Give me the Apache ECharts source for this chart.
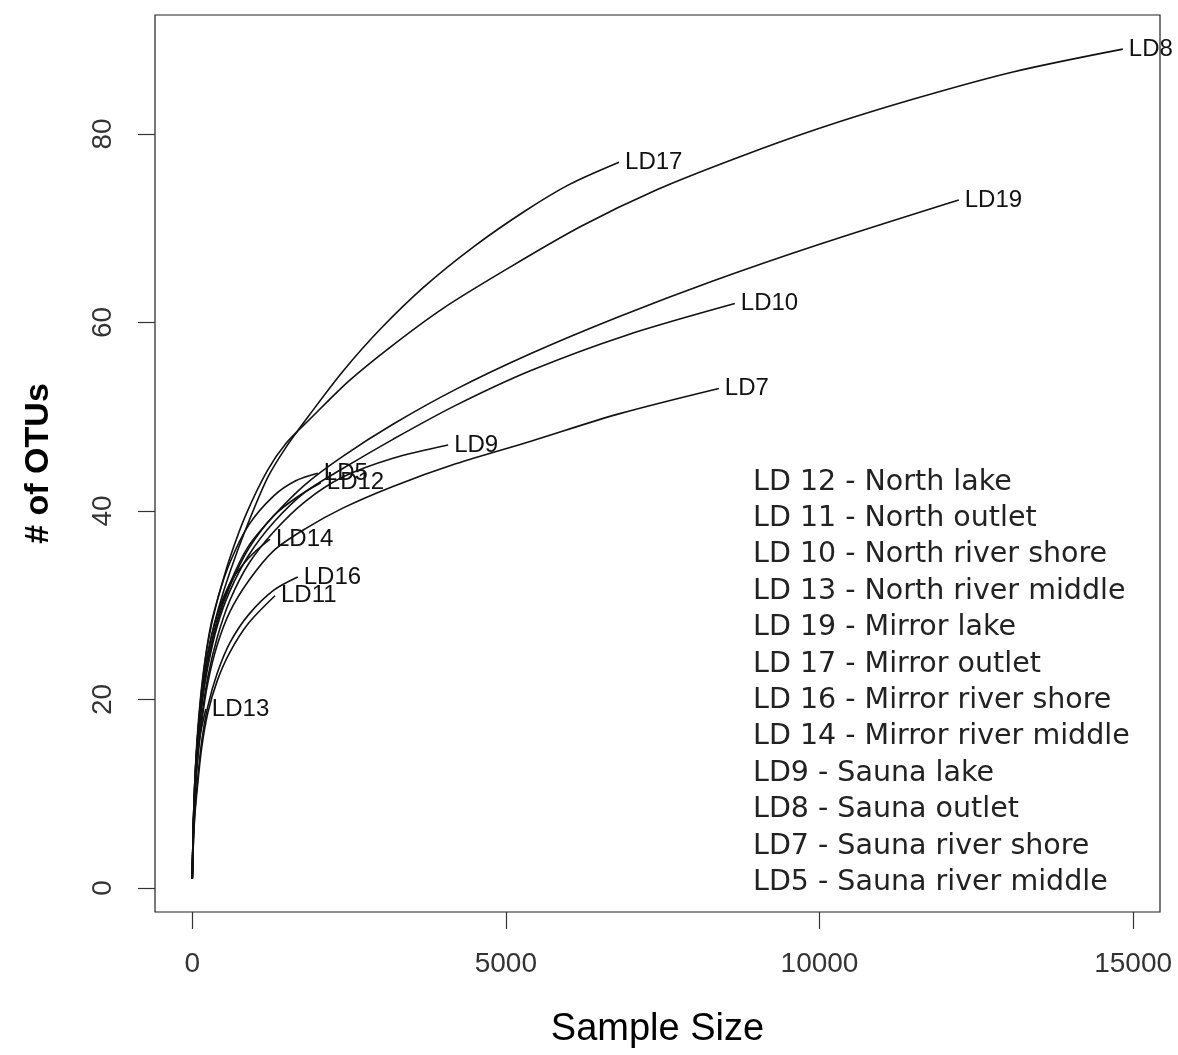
<!DOCTYPE html>
<html>
<head>
<meta charset="utf-8">
<title>Rarefaction curves</title>
<script src="https://cdn.jsdelivr.net/npm/echarts@6/dist/echarts.min.js"></script>
<style>
  html, body { margin: 0; padding: 0; background: #fff; }
  #chart { width: 1178px; height: 1055px; }
</style>
</head>
<body>
<div id="chart"></div>
<script>
// Rarefaction curves: [sample size, number of OTUs] per sample
const ld8  = [[1,1],[15,6],[40,11],[80,16],[130,20],[200,24],[300,28],[420,31],[600,35],[850,39.5],[1200,44.3],[1500,47.2],[1870,49.7],[2500,53.8],[3200,57.6],[4000,61.5],[5000,65.6],[6200,70.2],[7415,74.1],[8700,77.5],[10000,80.6],[11500,83.7],[13100,86.6],[14835,89]];
const ld17 = [[1,1],[15,5.8],[40,10.6],[80,15.3],[130,19],[200,22.8],[300,26.5],[420,29.7],[600,33.5],[850,38],[1200,43.5],[1500,46.8],[1870,50.2],[2400,54.8],[3000,59.3],[3700,63.8],[4500,68.1],[5300,71.8],[6000,74.6],[6805,77]];
const ld19 = [[1,1],[15,5.5],[40,10],[80,14.5],[150,19.5],[250,24],[400,28.5],[600,32.3],[900,36.3],[1300,39.5],[1800,42.8],[2400,45.8],[3200,49.2],[4200,52.9],[5400,56.7],[6800,60.6],[8300,64.4],[10000,68.3],[12220,73]];
const ld10 = [[1,1],[15,5.5],[40,10],[80,14.5],[150,19.3],[250,23.5],[400,27.8],[600,31.5],[900,35.3],[1300,38.8],[1800,42],[2400,44.5],[3200,47.6],[4200,51.2],[5400,54.9],[6900,58.6],[8650,62]];
const ld7  = [[1,1],[15,5],[40,9],[80,13],[150,17.5],[250,21.8],[400,25.8],[600,29.3],[900,32.6],[1300,35.8],[1800,38.1],[2400,40.3],[3200,42.6],[4200,45],[5400,47.4],[6800,50.3],[8395,53]];
const ld9  = [[1,1],[15,5],[40,9.3],[80,13.5],[150,18],[250,22.4],[400,26.6],[600,30.5],[900,34.4],[1300,37.8],[1800,41],[2400,43.6],[3200,45.6],[4080,47]];
const ld12 = [[1,1],[15,5.5],[40,10],[80,14.5],[150,19.5],[250,24],[400,28.3],[600,32],[900,36],[1300,39.5],[1700,41.6],[2050,43]];
const ld5  = [[1,1],[15,6],[40,11],[80,15.5],[150,21],[250,26],[400,30.5],[600,34.5],[900,38.5],[1300,41.6],[1650,43.2],[2002,44]];
const ld14 = [[1,1],[15,6],[40,11],[80,15.5],[150,20.5],[250,25],[400,29],[600,32.3],[900,35],[1240,37]];
const ld16 = [[1,1],[15,4.3],[40,7.8],[80,11],[150,15.5],[250,19.3],[400,22.8],[600,26],[900,29],[1300,31.6],[1683,33]];
const ld11 = [[1,1],[15,4],[40,7.5],[80,10.5],[150,14.8],[250,18.6],[400,22],[600,25],[900,28.1],[1320,31]];
const ld13 = [[1,1],[15,5.5],[40,10],[80,14],[130,16.3],[180,17.9],[218,19]];

const sampleNames = ['LD12','LD11','LD10','LD13','LD19','LD17','LD16','LD14','LD9','LD8','LD7','LD5'];
const sampleCurves = [ld12, ld11, ld10, ld13, ld19, ld17, ld16, ld14, ld9, ld8, ld7, ld5];

// Site key shown inside the plot
const siteKey = [
  'LD 12 - North lake',
  'LD 11 - North outlet',
  'LD 10 - North river shore',
  'LD 13 - North river middle',
  'LD 19 - Mirror lake',
  'LD 17 - Mirror outlet',
  'LD 16 - Mirror river shore',
  'LD 14 - Mirror river middle',
  'LD9 - Sauna lake',
  'LD8 - Sauna outlet',
  'LD7 - Sauna river shore',
  'LD5 - Sauna river middle'
];

const xTicks = [0, 5000, 10000, 15000];
const yTicks = [0, 20, 40, 60, 80];

const chart = echarts.init(document.getElementById('chart'), null, { renderer: 'canvas' });

const series = sampleNames.map((name, i) => ({
  name: name,
  type: 'line',
  data: sampleCurves[i],
  smooth: 0.3,
  showSymbol: false,
  symbol: 'none',
  lineStyle: { color: '#111', width: 1.6 },
  endLabel: {
    show: true,
    formatter: name,
    distance: 6,
    color: '#111',
    fontFamily: '"Liberation Sans", Arial, sans-serif',
    fontSize: 24
  },
  emphasis: { disabled: true },
  silent: true
}));

chart.setOption({
  animation: false,
  backgroundColor: '#fff',
  grid: {
    left: 155, right: 18, top: 15, bottom: 143,
    show: true, borderColor: '#222', borderWidth: 1.2, backgroundColor: 'transparent'
  },
  xAxis: {
    type: 'value',
    min: -593, max: 15428,
    splitLine: { show: false },
    axisLine: { show: false, onZero: false },
    axisTick: { show: true, customValues: xTicks, length: 17, lineStyle: { color: '#333', width: 1.2 } },
    axisLabel: {
      customValues: xTicks, margin: 38, color: '#333',
      formatter: v => String(v),
      fontFamily: '"Liberation Sans", Arial, sans-serif', fontSize: 28
    },
    name: 'Sample Size', nameLocation: 'middle', nameGap: 99,
    nameTextStyle: { fontFamily: '"Liberation Sans", Arial, sans-serif', fontSize: 38, color: '#000' }
  },
  yAxis: {
    type: 'value',
    min: -2.55, max: 92.62,
    splitLine: { show: false },
    axisLine: { show: false, onZero: false },
    axisTick: { show: true, customValues: yTicks, length: 17, lineStyle: { color: '#333', width: 1.2 } },
    axisLabel: {
      customValues: yTicks, margin: 38, rotate: 90, color: '#333',
      formatter: v => String(v),
      fontFamily: '"Liberation Sans", Arial, sans-serif', fontSize: 28
    },
    name: '# of OTUs', nameLocation: 'middle', nameGap: 99, nameRotate: 90,
    nameTextStyle: { fontFamily: '"Liberation Sans", Arial, sans-serif', fontSize: 34, fontWeight: 'bold', color: '#000' }
  },
  graphic: [{
    type: 'text',
    left: 753,
    top: 464,
    silent: true,
    style: {
      text: siteKey.join('\n'),
      font: '28.5px "DejaVu Sans", sans-serif',
      lineHeight: 36.4,
      fill: '#222'
    }
  }],
  series: series
});
</script>
</body>
</html>
